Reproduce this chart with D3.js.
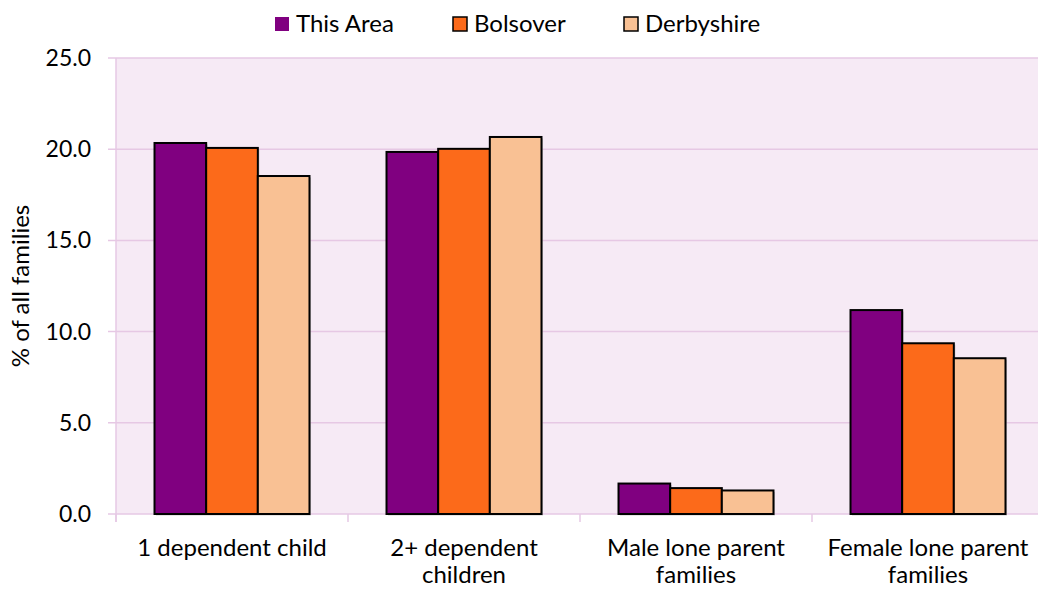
<!DOCTYPE html>
<html>
<head>
<meta charset="utf-8">
<script src="https://cdn.jsdelivr.net/npm/d3@7"></script>
<style>
  body { margin: 0; background: #fff; }
  svg text { font-family: Lato, "Open Sans", sans-serif; fill: #000; }
</style>
</head>
<body>
<script>
(function(){

    //chart data
    var categories = [["1 dependent child"], ["2+ dependent", "children"], ["Male lone parent", "families"], ["Female lone parent", "families"]];
    var seriesNames = ["This Area", "Bolsover", "Derbyshire"];
    var thisArea = [20.34, 19.85, 1.67, 11.18];
    var bolsover = [20.07, 20.02, 1.42, 9.36];
    var derbyshire = [18.53, 20.67, 1.29, 8.54];
    var yTicks = [0, 5, 10, 15, 20, 25];

    var seriesValues = [thisArea, bolsover, derbyshire];
    var colors = ["#800080", "#fc6a1a", "#f9c194"];

    var width = 1038, height = 589;
    var left = 116, right = 1044, top = 58, bottom = 514;

    var svg = d3.select("body").append("svg")
        .attr("width", width)
        .attr("height", height);

    //scales
    var x = d3.scaleBand()
        .domain(d3.range(categories.length))
        .range([left, right])
        .paddingInner(0)
        .paddingOuter(0);

    var groupWidth = x.bandwidth() * 0.668;
    var xInner = d3.scaleBand()
        .domain(d3.range(seriesNames.length))
        .range([0, groupWidth]);

    var y = d3.scaleLinear()
        .domain([0, 25])
        .range([bottom, top]);

    //plot background
    svg.append("rect")
        .attr("x", left)
        .attr("y", top)
        .attr("width", right - left)
        .attr("height", bottom - top)
        .attr("fill", "#f6eaf5");

    //gridlines
    svg.append("g")
        .selectAll("line")
        .data(yTicks)
        .enter()
        .append("line")
        .attr("x1", left - 8)
        .attr("x2", right)
        .attr("y1", function(d){ return y(d); })
        .attr("y2", function(d){ return y(d); })
        .attr("stroke", "#e6c8e4")
        .attr("stroke-width", 1.5);

    //y axis line
    svg.append("line")
        .attr("x1", left).attr("x2", left)
        .attr("y1", top).attr("y2", bottom + 8)
        .attr("stroke", "#e6c8e4")
        .attr("stroke-width", 1.5);

    //category ticks
    svg.append("g")
        .selectAll("line")
        .data(d3.range(categories.length + 1))
        .enter()
        .append("line")
        .attr("x1", function(d){ return left + d * x.step(); })
        .attr("x2", function(d){ return left + d * x.step(); })
        .attr("y1", bottom)
        .attr("y2", bottom + 8)
        .attr("stroke", "#e6c8e4")
        .attr("stroke-width", 1.5);

    //y tick labels
    svg.append("g")
        .selectAll("text")
        .data(yTicks)
        .enter()
        .append("text")
        .attr("x", 91)
        .attr("y", function(d){ return y(d); })
        .attr("dy", "0.35em")
        .attr("text-anchor", "end")
        .style("font-size", "23px")
        .text(function(d){ return d3.format(".1f")(d); });

    //y axis title
    svg.append("text")
        .attr("transform", "translate(29," + ((top + bottom) / 2) + ") rotate(-90)")
        .attr("text-anchor", "middle")
        .style("font-size", "24px")
        .text("% of all families");

    //bars
    var groups = svg.selectAll(".group")
        .data(seriesValues)
        .enter()
        .append("g")
        .attr("class", "group");

    groups.each(function(vals, s){
        var g = d3.select(this);
        //soft shadow
        g.selectAll(".shadow")
            .data(vals)
            .enter()
            .append("rect")
            .attr("x", function(d, i){ return x(i) + (x.bandwidth() - groupWidth) / 2 + xInner(s) + 1.5; })
            .attr("y", function(d){ return y(d) + 1.5; })
            .attr("width", xInner.bandwidth())
            .attr("height", function(d){ return bottom - y(d); })
            .attr("fill", "#999")
            .attr("opacity", 0.5);
        g.selectAll(".bar")
            .data(vals)
            .enter()
            .append("rect")
            .attr("class", "bar")
            .attr("x", function(d, i){ return x(i) + (x.bandwidth() - groupWidth) / 2 + xInner(s); })
            .attr("y", function(d){ return y(d); })
            .attr("width", xInner.bandwidth())
            .attr("height", function(d){ return bottom - y(d); })
            .attr("fill", colors[s])
            .attr("stroke", "#000")
            .attr("stroke-width", 2);
    });

    //category labels
    var labels = svg.append("g")
        .selectAll("text")
        .data(categories)
        .enter()
        .append("text")
        .attr("x", function(d, i){ return x(i) + x.bandwidth() / 2; })
        .attr("y", 556)
        .attr("text-anchor", "middle")
        .style("font-size", "24px");

    labels.selectAll("tspan")
        .data(function(d){ return d; })
        .enter()
        .append("tspan")
        .attr("x", function(){ return d3.select(this.parentNode).attr("x"); })
        .attr("dy", function(d, i){ return i === 0 ? 0 : 27; })
        .text(function(d){ return d; });

    //legend
    var legendX = [275, 453, 624];
    var legend = svg.append("g")
        .selectAll("g")
        .data(seriesNames)
        .enter()
        .append("g")
        .attr("transform", function(d, i){ return "translate(" + legendX[i] + ",17)"; });

    legend.append("rect")
        .attr("width", 14)
        .attr("height", 14)
        .attr("fill", function(d, i){ return colors[i]; })
        .attr("stroke", function(d, i){ return i === 0 ? "none" : "#000"; })
        .attr("stroke-width", 1.5);

    legend.append("text")
        .attr("x", 21)
        .attr("y", 7)
        .attr("dy", "0.35em")
        .style("font-size", "24px")
        .text(function(d){ return d; });

})();
</script>
</body>
</html>
